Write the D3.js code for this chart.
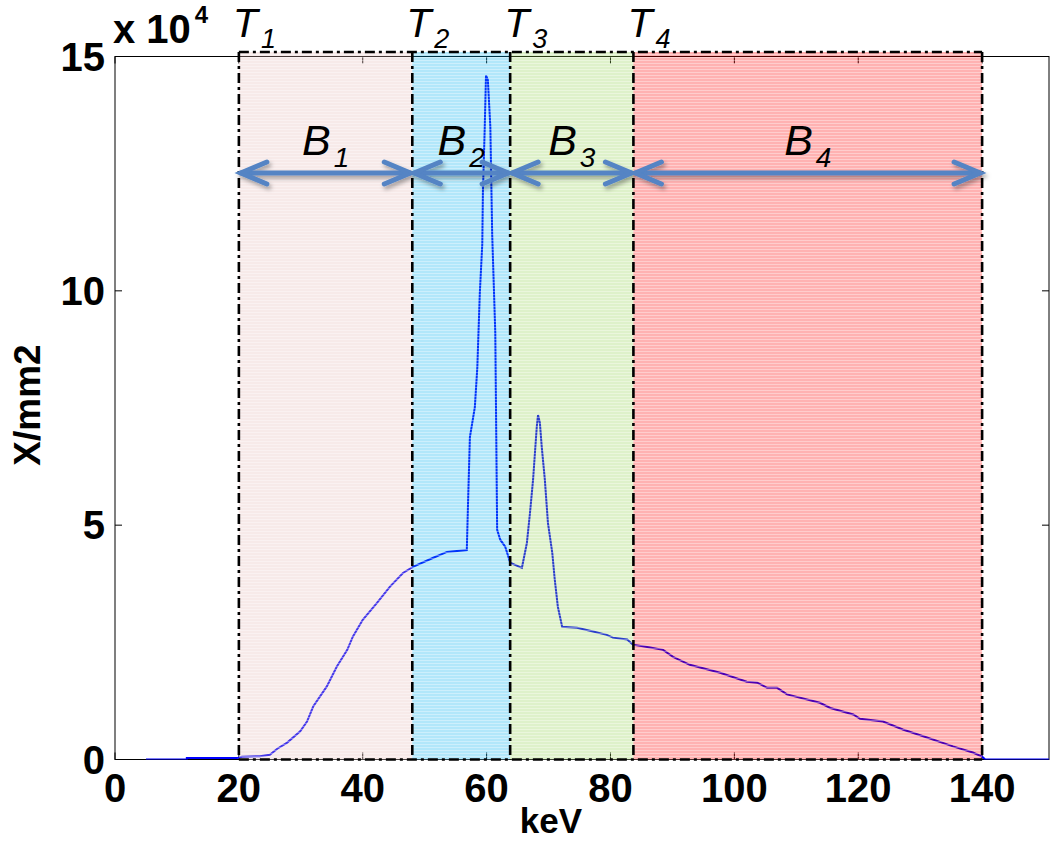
<!DOCTYPE html>
<html>
<head>
<meta charset="utf-8">
<script src="https://cdn.jsdelivr.net/npm/d3@7"></script>
<style>
  html, body { margin: 0; padding: 0; background: #fff; }
  svg { display: block; font-family: "Liberation Sans", Arial, sans-serif; }
</style>
</head>
<body>
<div id="chart"></div>
<script>
// X-ray spectrum with four energy bins (B1..B4) split at thresholds T1..T4.

// spectrum: energy in keV, fluence in units of 1e4 per mm2
const energy = [
  5, 11.6, 11.6, 19.7, 20.5, 23.4, 25.0, 26.2, 27.8, 29.9, 31.0, 32.0, 34.2, 35.8,
  37.5, 38.4, 40.0, 42.3, 44.4, 46.5, 48.1, 51.3, 53.6, 56.8, 57.0, 57.3, 58.1,
  58.5, 58.9, 59.3, 59.4, 59.7, 59.9, 60.2, 60.6, 60.9, 61.4, 61.7, 62.2, 63.0,
  63.5, 63.8, 65.7, 66.5, 67.0, 67.5, 67.8, 68.1, 68.3, 68.6, 68.9, 69.4, 69.9,
  70.6, 71.0, 71.5, 72.2, 74.6, 77.2, 79.4, 80.4, 82.7, 83.6, 86.4, 88.5, 90.1,
  92.8, 97.7, 102.0, 103.7, 105.3, 106.9, 108.5, 113.8, 115.5, 119.2, 120.3,
  124.0, 127.2, 131.1, 135.3, 138.5, 140.0, 140.5, 152
];
const fluence = [
  0, 0, 0.03, 0.03, 0.06, 0.07, 0.10, 0.23, 0.36, 0.60, 0.81, 1.13, 1.56, 1.98,
  2.34, 2.62, 2.98, 3.34, 3.69, 3.98, 4.11, 4.30, 4.43, 4.47, 5.47, 6.88, 7.52,
  8.37, 9.95, 11.0, 12.1, 13.5, 14.6, 14.5, 13.5, 11.2, 9.1, 4.9, 4.69, 4.54,
  4.33, 4.20, 4.09, 4.62, 5.26, 5.97, 6.54, 7.10, 7.35, 7.18, 6.67, 5.97, 5.05,
  4.41, 3.84, 3.26, 2.83, 2.81, 2.73, 2.66, 2.60, 2.56, 2.45, 2.39, 2.34, 2.19,
  2.02, 1.85, 1.66, 1.64, 1.53, 1.53, 1.39, 1.21, 1.10, 0.96, 0.87,
  0.81, 0.64, 0.47, 0.28, 0.15, 0.06, 0, 0
];

// bin edges (keV) and labels
const thresholds = [20, 48, 63.8, 83.7, 140];
const thresholdLabels = ["1", "2", "3", "4"];
const binLabels = ["1", "2", "3", "4"];
const binColors = ["#e6b8b7", "#00b0f0", "#92d050", "#ff0000"];

const xTicks = [0, 20, 40, 60, 80, 100, 120, 140];
const yTicks = [0, 5, 10, 15];

const W = 1050, H = 844;
const PLOT = { left: 115, right: 1049, top: 56.5, bottom: 759.5 };

const svg = d3.select("#chart").append("svg")
  .attr("width", W).attr("height", H);

const x = d3.scaleLinear().domain([0, 150.8]).range([PLOT.left, PLOT.right]);
const y = d3.scaleLinear().domain([0, 15]).range([PLOT.bottom, PLOT.top]);

const defs = svg.append("defs");
defs.append("clipPath").attr("id", "plotClip")
  .append("rect")
  .attr("x", PLOT.left).attr("y", PLOT.top)
  .attr("width", PLOT.right - PLOT.left).attr("height", PLOT.bottom - PLOT.top);

// faint horizontal banding seen in the shaded boxes
const stripes = defs.append("pattern").attr("id", "stripes")
  .attr("patternUnits", "userSpaceOnUse").attr("width", 8).attr("height", 3);
stripes.append("rect").attr("width", 8).attr("height", 1).attr("fill", "#fff").attr("opacity", 0.35);

const shadow = defs.append("filter").attr("id", "arrowShadow")
  .attr("x", "-10%").attr("y", "-100%").attr("width", "120%").attr("height", "300%");
shadow.append("feDropShadow")
  .attr("dx", 2).attr("dy", 3).attr("stdDeviation", 2)
  .attr("flood-color", "#000").attr("flood-opacity", 0.35);

// ---- frame and ticks (MATLAB style, ticks pointing in)
const TICK = 7;
const gAxes = svg.append("g").attr("stroke", "#000").attr("stroke-width", 1);
gAxes.append("rect")
  .attr("x", PLOT.left).attr("y", PLOT.top)
  .attr("width", PLOT.right - PLOT.left).attr("height", PLOT.bottom - PLOT.top)
  .attr("fill", "none");
gAxes.selectAll("line.xt").data(xTicks).join("g").each(function (d) {
  const g = d3.select(this);
  g.append("line").attr("x1", x(d)).attr("x2", x(d)).attr("y1", PLOT.bottom).attr("y2", PLOT.bottom - TICK);
  g.append("line").attr("x1", x(d)).attr("x2", x(d)).attr("y1", PLOT.top).attr("y2", PLOT.top + TICK);
});
gAxes.selectAll("line.yt").data(yTicks).join("g").each(function (d) {
  const g = d3.select(this);
  g.append("line").attr("y1", y(d)).attr("y2", y(d)).attr("x1", PLOT.left).attr("x2", PLOT.left + TICK);
  g.append("line").attr("y1", y(d)).attr("y2", y(d)).attr("x1", PLOT.right).attr("x2", PLOT.right - TICK);
});

svg.append("g").selectAll("text").data(xTicks).join("text")
  .attr("x", d => x(d)).attr("y", 802)
  .attr("text-anchor", "middle")
  .attr("font-size", 40).attr("font-weight", 700)
  .text(d => d);
svg.append("g").selectAll("text").data(yTicks).join("text")
  .attr("x", 105).attr("y", d => y(d) + 14)
  .attr("text-anchor", "end")
  .attr("font-size", 40).attr("font-weight", 700)
  .text(d => d);

// exponent marker
const expo = svg.append("text").attr("x", 113).attr("y", 43)
  .attr("font-size", 40).attr("font-weight", 700);
expo.append("tspan").text("x 10");
expo.append("tspan").attr("dx", 4).attr("dy", -20).attr("font-size", 24).text("4");

svg.append("text")
  .attr("x", 551).attr("y", 833)
  .attr("text-anchor", "middle")
  .attr("font-size", 35).attr("font-weight", 700)
  .text("keV");
svg.append("text")
  .attr("transform", "translate(40,405) rotate(-90)")
  .attr("text-anchor", "middle")
  .attr("font-size", 37).attr("font-weight", 700)
  .text("X/mm2");

// ---- spectrum
const pts = energy.map((e, i) => [e, fluence[i]]);
svg.append("path")
  .datum(pts)
  .attr("clip-path", "url(#plotClip)")
  .attr("fill", "none")
  .attr("stroke", "#0000ff")
  .attr("stroke-width", 2)
  .attr("d", d3.line().x(d => x(d[0])).y(d => y(d[1])));

// ---- translucent bin boxes laid over the curve
const BOX_TOP = y(15) - 4.5;
const bins = thresholds.slice(0, -1).map((t, i) => ({ lo: t, hi: thresholds[i + 1], i }));
const gBins = svg.append("g");
gBins.selectAll("rect.fill").data(bins).join("rect")
  .attr("x", d => x(d.lo)).attr("width", d => x(d.hi) - x(d.lo))
  .attr("y", BOX_TOP).attr("height", PLOT.bottom - BOX_TOP)
  .attr("fill", d => binColors[d.i]).attr("fill-opacity", 0.3);
gBins.selectAll("rect.band").data(bins).join("rect")
  .attr("x", d => x(d.lo)).attr("width", d => x(d.hi) - x(d.lo))
  .attr("y", BOX_TOP).attr("height", PLOT.bottom - BOX_TOP)
  .attr("fill", "url(#stripes)");

// dash-dot outlines
const dashStyle = g => g.attr("fill", "none").attr("stroke", "#000")
  .attr("stroke-width", 2.6).attr("stroke-dasharray", "10,4,3,4");
gBins.append("line")
  .attr("x1", x(thresholds[0])).attr("x2", x(thresholds.at(-1)))
  .attr("y1", BOX_TOP).attr("y2", BOX_TOP).call(dashStyle);
gBins.append("line")
  .attr("x1", x(thresholds[0])).attr("x2", x(thresholds.at(-1)))
  .attr("y1", PLOT.bottom).attr("y2", PLOT.bottom).call(dashStyle);
gBins.selectAll("line.v").data(thresholds).join("line")
  .attr("x1", d => x(d)).attr("x2", d => x(d))
  .attr("y1", BOX_TOP).attr("y2", PLOT.bottom).call(dashStyle);

// ---- threshold labels T_n
const tLab = svg.append("g").attr("font-style", "italic");
thresholds.slice(0, 4).forEach((t, i) => {
  const txt = tLab.append("text").attr("x", x(t) - 6).attr("y", 37).attr("font-size", 41);
  txt.append("tspan").text("T");
  txt.append("tspan").attr("dx", 3).attr("dy", 11).attr("font-size", 27).text(thresholdLabels[i]);
});

// ---- double arrows with bin labels B_n
const ARROW_Y = 173;
const gArrows = svg.append("g").attr("filter", "url(#arrowShadow)")
  .attr("stroke", "#5484c4").attr("stroke-width", 5)
  .attr("stroke-linecap", "round").attr("fill", "none");
bins.forEach(b => {
  const x0 = x(b.lo) + 2, x1 = x(b.hi) - 2;
  gArrows.append("line").attr("x1", x0).attr("x2", x1).attr("y1", ARROW_Y).attr("y2", ARROW_Y);
  gArrows.append("path").attr("d", `M${x0 + 26},${ARROW_Y - 11}L${x0},${ARROW_Y}L${x0 + 26},${ARROW_Y + 11}`);
  gArrows.append("path").attr("d", `M${x1 - 26},${ARROW_Y - 11}L${x1},${ARROW_Y}L${x1 - 26},${ARROW_Y + 11}`);
});

const bLab = svg.append("g").attr("font-style", "italic");
bins.forEach(b => {
  const txt = bLab.append("text")
    .attr("x", (x(b.lo) + x(b.hi)) / 2).attr("y", 155)
    .attr("text-anchor", "middle").attr("font-size", 43);
  txt.append("tspan").text("B");
  txt.append("tspan").attr("dx", 3).attr("dy", 12).attr("font-size", 28).text(binLabels[b.i]);
});
</script>
</body>
</html>
